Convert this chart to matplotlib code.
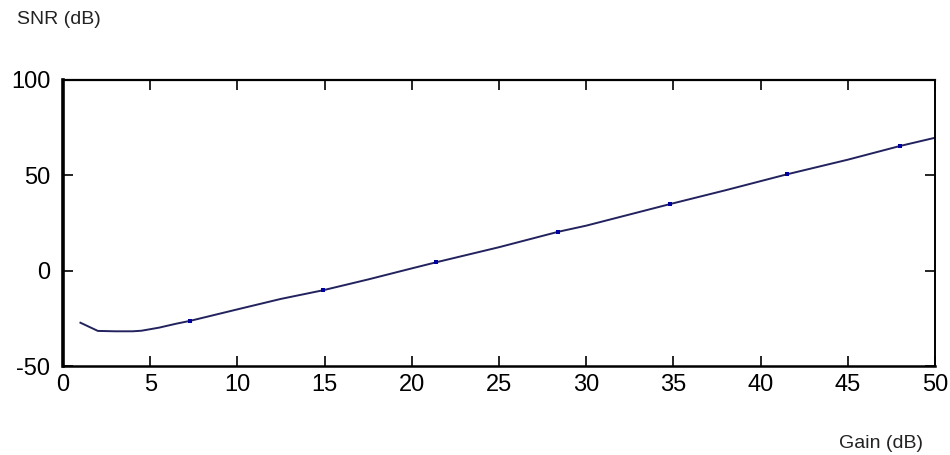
import matplotlib

matplotlib.use("Agg")
import matplotlib.pyplot as plt

# SNR curve
gain_db = [1, 2, 3, 4, 4.5, 5.5, 6.5, 7.3, 10, 12.5, 14.9, 17.5, 20, 21.4,
           25, 28.4, 30, 34.8, 38, 41.5, 45, 48, 50]
snr_db = [-27.3, -31.6, -31.8, -31.8, -31.5, -29.9, -27.8, -26.3, -20.3, -14.8,
          -10.3, -4.6, 1.2, 4.4, 12.3, 20.4, 23.6, 34.9, 42.2, 50.5, 58.2, 65.4, 69.7]

# sample points drawn as small markers
marker_gain = [7.3, 14.9, 21.4, 28.4, 34.8, 41.5, 48.0]
marker_snr = [-26.3, -10.3, 4.4, 20.4, 34.9, 50.5, 65.4]

x_ticks = [0, 5, 10, 15, 20, 25, 30, 35, 40, 45, 50]
y_ticks = [-50, 0, 50, 100]

plt.rcParams["font.family"] = ["Liberation Sans", "DejaVu Sans"]
plt.rcParams["axes.unicode_minus"] = False

fig = plt.figure(figsize=(9.5, 4.55), dpi=100)
ax = fig.add_axes([0.0663, 0.1956, 0.9179, 0.6286])

ax.plot(gain_db, snr_db, color="#22225e", linewidth=1.4)
ax.plot(marker_gain, marker_snr, linestyle="none", marker="s",
        markersize=3.2, color="#0000a0", markeredgewidth=0)

ax.set_xlim(0, 50)
ax.set_ylim(-50, 100)
ax.set_xticks(x_ticks)
ax.set_yticks(y_ticks)
ax.tick_params(direction="in", length=7, width=1.2, labelsize=17,
               top=True, right=True, colors="black")
ax.tick_params(axis="x", pad=6)
ax.tick_params(axis="y", pad=9)
for side, lw in {"left": 2.6, "bottom": 1.8, "top": 1.6, "right": 1.4}.items():
    ax.spines[side].set_linewidth(lw)

fig.text(17 / 950, 1 - 20 / 455, "SNR (dB)", fontsize=14, ha="left", va="center",
         color="#222222")
fig.text(923 / 950, 1 - 443 / 455, "Gain (dB)", fontsize=14, ha="right", va="center",
         color="#222222")

fig.savefig("out.png", dpi=100)
plt.close(fig)
